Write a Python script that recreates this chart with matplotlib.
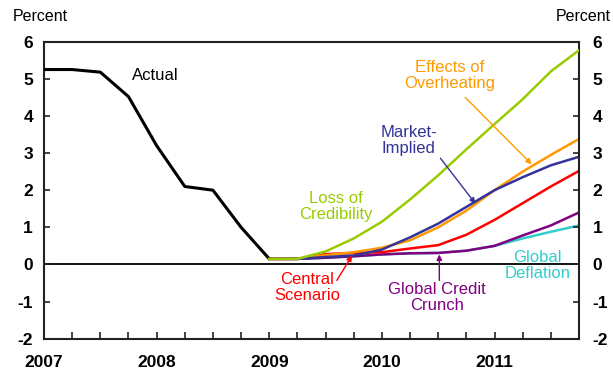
import matplotlib
matplotlib.use("Agg")
import matplotlib.pyplot as plt
import numpy as np

plt.rcParams["font.family"] = ["Liberation Sans", "DejaVu Sans"]

# Policy rate history (quarterly, percent)
actual_x = [2007.0, 2007.25, 2007.5, 2007.75, 2008.0, 2008.25, 2008.5, 2008.75, 2009.0]
actual_y = [5.25, 5.25, 5.18, 4.52, 3.2, 2.1, 2.0, 1.0, 0.15]

# Scenario paths (quarterly, percent)
scen_x = [2009.0, 2009.25, 2009.5, 2009.75, 2010.0, 2010.25, 2010.5, 2010.75,
          2011.0, 2011.25, 2011.5, 2011.75]
credibility = [0.15, 0.15, 0.35, 0.70, 1.15, 1.75, 2.40, 3.10, 3.78, 4.45, 5.20, 5.77]
overheating = [0.15, 0.15, 0.25, 0.33, 0.45, 0.65, 1.00, 1.45, 2.00, 2.50, 2.95, 3.38]
market = [0.15, 0.15, 0.20, 0.24, 0.40, 0.73, 1.10, 1.55, 2.00, 2.35, 2.67, 2.90]
central = [0.15, 0.15, 0.28, 0.31, 0.33, 0.43, 0.52, 0.80, 1.20, 1.65, 2.10, 2.52]
credit_crunch = [0.15, 0.15, 0.18, 0.22, 0.27, 0.30, 0.31, 0.37, 0.50, 0.78, 1.05, 1.40]
deflation = [0.15, 0.15, 0.18, 0.22, 0.27, 0.30, 0.31, 0.37, 0.50, 0.70, 0.88, 1.05]

years = [2007, 2008, 2009, 2010, 2011]
quarters = np.arange(2007.0, 2011.76, 0.25)
y_ticks = [-2, -1, 0, 1, 2, 3, 4, 5, 6]

GREEN = "#99CC00"
ORANGE = "#FF9900"
BLUE = "#333399"
RED = "#FF0000"
PURPLE = "#800080"
CYAN = "#33CCCC"

fig = plt.figure(figsize=(6.13, 3.75), dpi=100)
ax = fig.add_axes([0.0718, 0.0968, 0.8727, 0.792])

ax.axhline(0, color="black", lw=1.3, zorder=1)
ax.plot(actual_x, actual_y, color="black", lw=2.2, zorder=3, solid_capstyle="butt")
ax.plot(scen_x, deflation, color=CYAN, lw=1.8, zorder=2)
ax.plot(scen_x, credit_crunch, color=PURPLE, lw=1.8, zorder=2)
ax.plot(scen_x, central, color=RED, lw=1.8, zorder=2)
ax.plot(scen_x, overheating, color=ORANGE, lw=1.8, zorder=2)
ax.plot(scen_x, market, color=BLUE, lw=1.8, zorder=2)
ax.plot(scen_x, credibility, color=GREEN, lw=1.8, zorder=4)

ax.set_xlim(2007.0, 2011.75)
ax.set_ylim(-2, 6)

ax.set_xticks(quarters)
ax.set_xticklabels([str(int(q)) if q in years else "" for q in quarters])
ax.set_yticks(y_ticks)
ax.set_yticklabels([str(v) for v in y_ticks])

for s in ax.spines.values():
    s.set_linewidth(1.5)
    s.set_color("#222222")

ax.tick_params(axis="x", direction="in", length=5, width=1.2, pad=12,
               labelsize=12.5, colors="#222222")
ax.tick_params(axis="y", direction="in", length=4.5, width=1.2, pad=8,
               labelsize=12.5, colors="#222222", left=True, right=True)
for lab in ax.get_xticklabels() + ax.get_yticklabels():
    lab.set_fontweight("bold")
    lab.set_color("black")

ax2 = ax.twinx()
ax2.set_ylim(-2, 6)
ax2.set_yticks(y_ticks)
ax2.set_yticklabels([str(v) for v in y_ticks])
ax2.tick_params(axis="y", direction="in", length=4.5, width=1.2, pad=10,
                labelsize=12.5, colors="#222222")
for lab in ax2.get_yticklabels():
    lab.set_fontweight("bold")
    lab.set_color("black")
for s in ax2.spines.values():
    s.set_visible(False)

fig.text(0.02, 0.955, "Percent", fontsize=11.5, ha="left", va="center")
fig.text(0.997, 0.955, "Percent", fontsize=11.5, ha="right", va="center")

lbl = dict(fontsize=12, ha="center", va="center", linespacing=1.15)
ax.text(2007.99, 5.09, "Actual", color="black", **lbl)
ax.text(2010.60, 5.09, "Effects of\nOverheating", color=ORANGE, **lbl)
ax.text(2010.24, 3.34, "Market-\nImplied", color=BLUE, **lbl)
ax.text(2009.59, 1.56, "Loss of\nCredibility", color=GREEN, **lbl)
ax.text(2009.34, -0.62, "Central\nScenario", color=RED, **lbl)
ax.text(2010.49, -0.89, "Global Credit\nCrunch", color=PURPLE, **lbl)
ax.text(2011.38, -0.03, "Global\nDeflation", color=CYAN, **lbl)

def pointer(start, end, color):
    ax.annotate("", xy=end, xytext=start,
                arrowprops=dict(arrowstyle="-|>", color=color, lw=1.0,
                                mutation_scale=8, shrinkA=0, shrinkB=0),
                zorder=5)

pointer((2010.74, 4.50), (2011.33, 2.70), ORANGE)
pointer((2010.52, 2.86), (2010.83, 1.64), BLUE)
pointer((2009.60, -0.43), (2009.735, 0.24), RED)
pointer((2010.51, -0.43), (2010.51, 0.27), PURPLE)

fig.savefig("out.png", dpi=100)
